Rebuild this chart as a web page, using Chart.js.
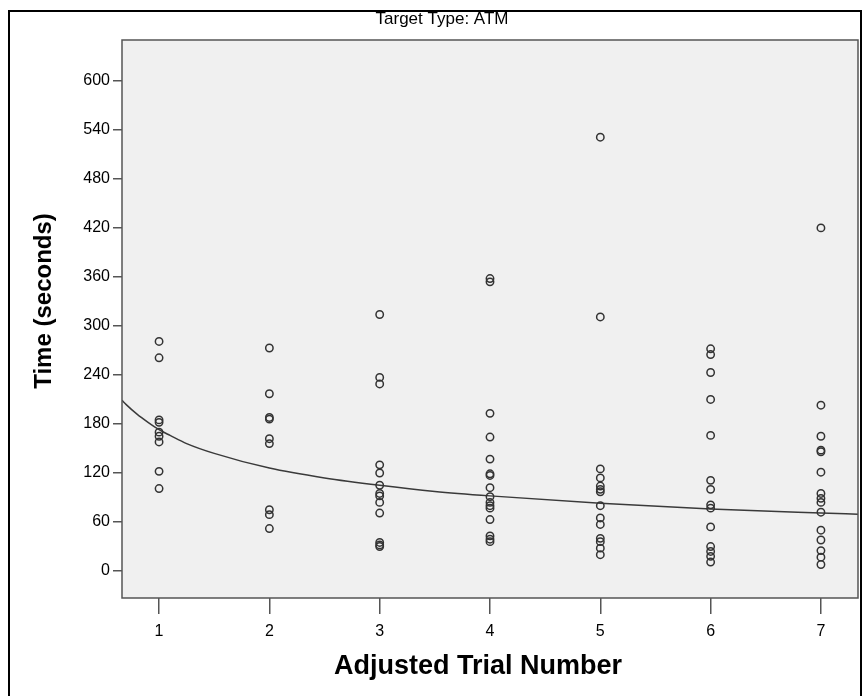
<!DOCTYPE html>
<html>
<head>
<meta charset="utf-8">
<script src="https://cdn.jsdelivr.net/npm/chart.js@4"></script>
<style>
  body { margin: 0; background: #fff; }
  #wrap { width: 867px; height: 696px; }
</style>
</head>
<body>
<div id="wrap"><canvas id="chart"></canvas></div>
<script>
// Valeurs (temps en secondes par essai)
const trialNumbers = [1, 2, 3, 4, 5, 6, 7];
const time1 = [281, 261, 185, 182, 170, 165, 158, 122, 101];
const time2 = [273, 217, 188, 186, 162, 156, 75, 69, 52];
const time3 = [314, 237, 229, 130, 120, 105, 95, 92, 84, 71, 35, 32, 30];
const time4 = [358, 354, 193, 164, 137, 119, 117, 102, 91, 84, 80, 77, 63, 43, 39, 36];
const time5 = [531, 311, 125, 114, 104, 100, 97, 80, 65, 57, 40, 36, 28, 20];
const time6 = [272, 265, 243, 210, 166, 111, 100, 81, 77, 54, 30, 24, 18, 11];
const time7 = [420, 203, 165, 148, 146, 121, 95, 89, 84, 72, 50, 38, 25, 17, 8];

// Courbe d'ajustement
const fitX = [0.664, 0.7, 0.8, 0.9, 1, 1.1, 1.25, 1.5, 2, 2.5, 3, 3.5, 4, 5, 6, 7, 7.336];
const fitY = [209, 204, 192, 182, 173, 166, 156, 144, 126, 114, 105, 97.5, 92, 83, 76, 71, 69.5];

const yTicks = [0, 60, 120, 180, 240, 300, 360, 420, 480, 540, 600];
const xTicks = [1, 2, 3, 4, 5, 6, 7];

const FONT = "Arial, 'Liberation Sans', sans-serif";

const allTimes = [time1, time2, time3, time4, time5, time6, time7];
const points = [];
allTimes.forEach((serie, i) => {
  serie.forEach((t) => points.push({ x: trialNumbers[i], y: t }));
});

// Cadre, fond gris, titre et titres des axes
const cadrePlugin = {
  id: "cadre",
  beforeDraw(chart) {
    const ctx = chart.ctx;
    const a = chart.chartArea;
    ctx.save();
    ctx.fillStyle = "#fff";
    ctx.fillRect(0, 0, chart.width, chart.height);
    ctx.strokeStyle = "#000";
    ctx.lineWidth = 2;
    ctx.strokeRect(9, 11, 852, 700);
    ctx.fillStyle = "#f0f0f0";
    ctx.fillRect(a.left, a.top, a.right - a.left, a.bottom - a.top);
    ctx.fillStyle = "#000";
    ctx.textAlign = "center";
    ctx.textBaseline = "middle";
    ctx.font = "17px " + FONT;
    ctx.fillText("Target Type: ATM", 442, 19);
    ctx.font = "bold 27px " + FONT;
    ctx.fillText("Adjusted Trial Number", 478, 667);
    ctx.translate(44, 301);
    ctx.rotate(-Math.PI / 2);
    ctx.font = "bold 24px " + FONT;
    ctx.fillText("Time (seconds)", 0, 0);
    ctx.restore();
  },
  afterDraw(chart) {
    const ctx = chart.ctx;
    const a = chart.chartArea;
    ctx.save();
    ctx.strokeStyle = "#555";
    ctx.lineWidth = 1.5;
    ctx.strokeRect(a.left, a.top, a.right - a.left, a.bottom - a.top);
    ctx.restore();
  },
};

new Chart(document.getElementById("chart"), {
  type: "scatter",
  data: {
    datasets: [
      {
        data: points,
        pointRadius: 3.7,
        pointBorderWidth: 1.5,
        borderColor: "#333",
        backgroundColor: "rgba(0,0,0,0)",
        showLine: false,
      },
      {
        data: fitX.map((x, i) => ({ x: x, y: fitY[i] })),
        showLine: true,
        pointRadius: 0,
        borderColor: "#3a3a3a",
        borderWidth: 1.5,
        cubicInterpolationMode: "monotone",
      },
    ],
  },
  options: {
    responsive: true,
    maintainAspectRatio: false,
    animation: false,
    layout: { padding: { left: 0, right: 9, top: 40, bottom: 0 } },
    plugins: {
      legend: { display: false },
      tooltip: { enabled: false },
    },
    scales: {
      x: {
        type: "linear",
        min: 0.664,
        max: 7.336,
        afterFit: (scale) => { scale.height = 98; },
        afterBuildTicks: (scale) => {
          scale.ticks = xTicks.map((v) => ({ value: v }));
        },
        grid: {
          drawOnChartArea: false,
          drawTicks: true,
          tickLength: 16,
          color: "#555",
          lineWidth: 1.5,
        },
        border: { display: false },
        ticks: {
          color: "#000",
          padding: 8,
          font: { family: FONT, size: 16 },
          callback: (v) => v,
        },
      },
      y: {
        min: -33,
        max: 650,
        afterFit: (scale) => { scale.width = 122; },
        afterBuildTicks: (scale) => {
          scale.ticks = yTicks.map((v) => ({ value: v }));
        },
        grid: {
          drawOnChartArea: false,
          drawTicks: true,
          tickLength: 9,
          color: "#555",
          lineWidth: 1.5,
        },
        border: { display: false },
        ticks: {
          color: "#000",
          padding: 3,
          font: { family: FONT, size: 16 },
          callback: (v) => v,
        },
      },
    },
  },
  plugins: [cadrePlugin],
});
</script>
</body>
</html>
